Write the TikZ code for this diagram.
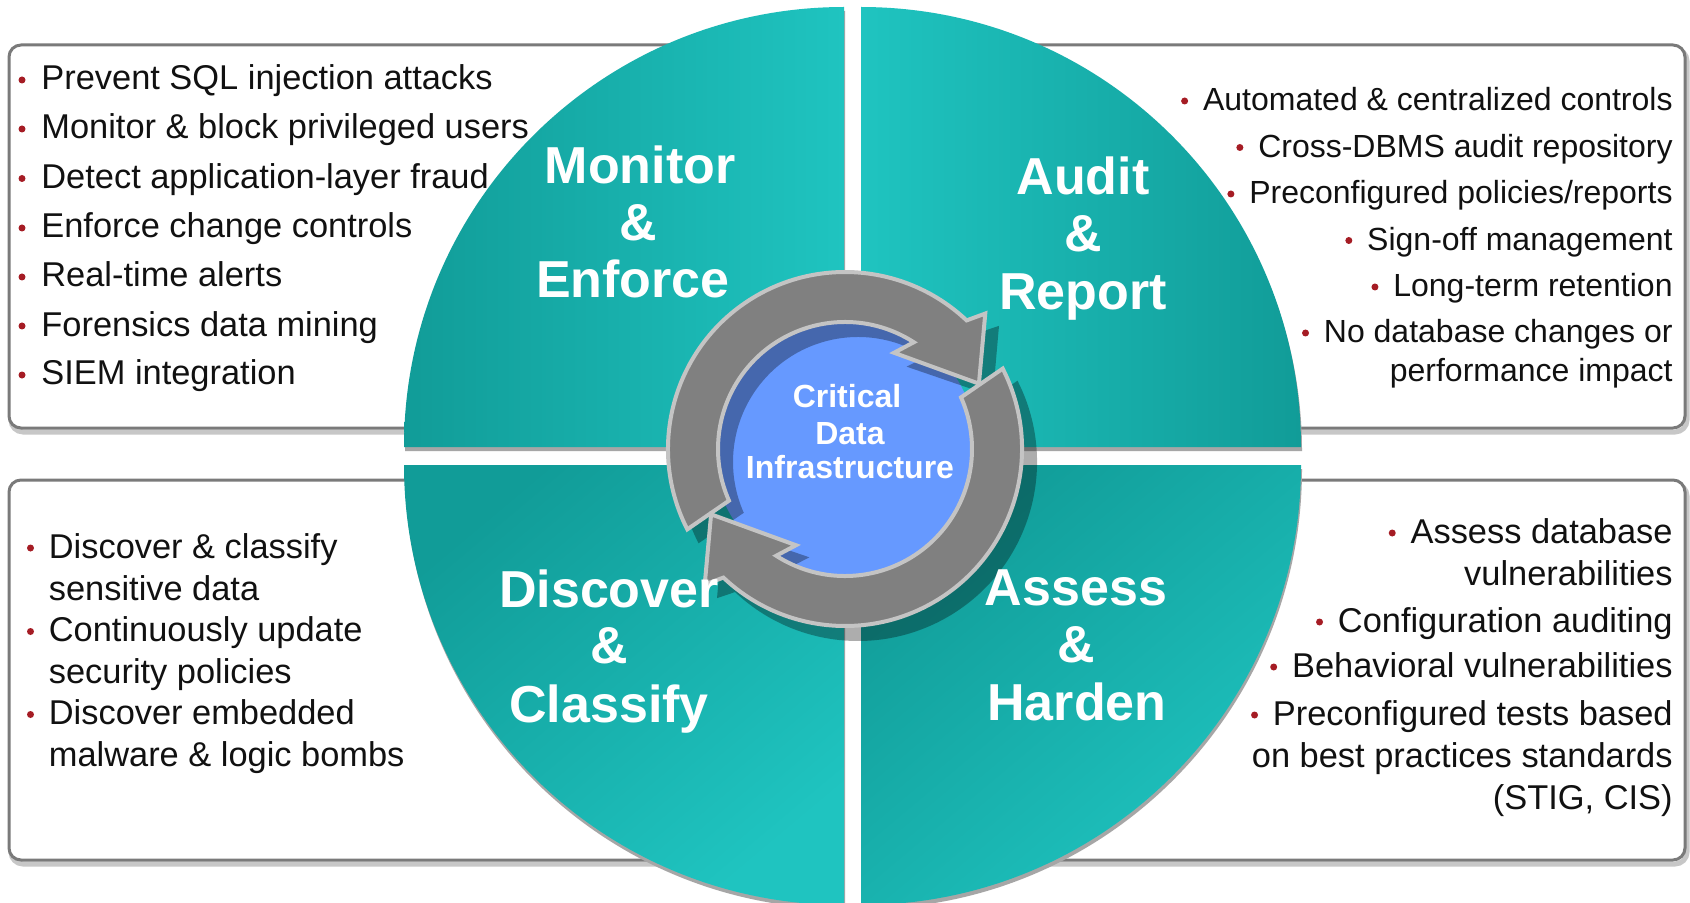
\documentclass[tikz,border=0pt]{standalone}
\usepackage{fontspec}
\setmainfont{Liberation Sans}
\usetikzlibrary{calc}
\definecolor{tealD}{HTML}{119C98}
\definecolor{tealL}{HTML}{1FC4C0}
\definecolor{ringgray}{HTML}{808080}
\definecolor{ringedge}{HTML}{C4C4C4}
\definecolor{coreblue}{HTML}{6699FF}
\definecolor{bred}{HTML}{A51C24}
\definecolor{boxline}{HTML}{7A7A7A}
\definecolor{txt}{HTML}{111111}
\definecolor{qshadow}{HTML}{A6A6A6}
\begin{document}
\begin{tikzpicture}[x=0.5pt,y=-0.5pt,
  infobox/.style={draw=boxline, line width=1.5pt, fill=white, rounded corners=6pt},
  boxshadow/.style={draw=black!22, line width=2.5pt, rounded corners=6pt},
  itemL/.style={anchor=base west, inner sep=0pt, text=txt, font=\fontsize{17.2}{20}\selectfont},
  itemR/.style={anchor=base east, inner sep=0pt, text=txt, font=\fontsize{17.2}{20}\selectfont},
  itemRs/.style={anchor=base east, inner sep=0pt, text=txt, font=\fontsize{16}{19}\selectfont},
  title/.style={anchor=base, inner sep=0pt, text=white, font=\fontsize{26}{30}\selectfont\bfseries},
  core/.style={anchor=base, inner sep=0pt, text=white, font=\fontsize{16}{19}\selectfont\bfseries},
  dot/.style={fill=bred, circle, inner sep=0pt, minimum size=3.5pt},
  arrowfill/.style={fill=ringgray, draw=ringedge, line width=2pt, line join=miter},
]
\useasboundingbox (0,0) rectangle (1690,903);
\clip (0,0) rectangle (1690,903);
\fill[white] (0,0) rectangle (1690,903);

% ---------- text boxes ----------
\draw[boxshadow] (11,49) rectangle (762,432);
\draw[boxshadow] (942,49) rectangle (1687,432);
\draw[boxshadow] (11,484) rectangle (762,864);
\draw[boxshadow] (942,484) rectangle (1687,864);
\path[infobox] (9,45) rectangle (760,428);
\path[infobox] (940,45) rectangle (1685,428);
\path[infobox] (9,480) rectangle (760,860);
\path[infobox] (940,480) rectangle (1685,860);

% top-left items
\node[itemL] (t1) at (41,90)    {Prevent SQL injection attacks};
\node[itemL] (t2) at (41,139)   {Monitor \& block privileged users};
\node[itemL] (t3) at (41,188.5) {Detect application-layer fraud};
\node[itemL] (t4) at (41,238)   {Enforce change controls};
\node[itemL] (t5) at (41,287)   {Real-time alerts};
\node[itemL] (t6) at (41,336)   {Forensics data mining};
\node[itemL] (t7) at (41,385)   {SIEM integration};
\foreach \n in {t1,t2,t3,t4,t5,t6,t7}
  \node[dot] (d\n) at ($(\n.base west)+(-19,-10)$) {};

% top-right items
\node[itemRs] (r1) at (1673,111)   {Automated \& centralized controls};
\node[itemRs] (r2) at (1673,157.5) {Cross-DBMS audit repository};
\node[itemRs] (r3) at (1673,204)   {Preconfigured policies/reports};
\node[itemRs] (r4) at (1673,250.5) {Sign-off management};
\node[itemRs] (r5) at (1673,297)   {Long-term retention};
\node[itemRs] (r6) at (1673,343)   {No database changes or};
\node[itemRs] (r7) at (1673,381)   {performance impact};
\foreach \n in {r1,r2,r3,r4,r5,r6}
  \node[dot] (d\n) at ($(\n.base west)+(-18,-10)$) {};

% bottom-left items
\node[itemL] (l1) at (48.5,558)   {Discover \& classify};
\node[itemL] (l2) at (48.5,600)   {sensitive data};
\node[itemL] (l3) at (48.5,641.5) {Continuously update};
\node[itemL] (l4) at (48.5,683)   {security policies};
\node[itemL] (l5) at (48.5,724.5) {Discover embedded};
\node[itemL] (l6) at (48.5,766)   {malware \& logic bombs};
\foreach \n in {l1,l3,l5}
  \node[dot] (d\n) at ($(\n.base west)+(-18,-10)$) {};

% bottom-right items
\node[itemR] (a1) at (1673,543) {Assess database};
\node[itemR] (a2) at (1673,585) {vulnerabilities};
\node[itemR] (a3) at (1673,632) {Configuration auditing};
\node[itemR] (a4) at (1673,677) {Behavioral vulnerabilities};
\node[itemR] (a5) at (1673,725) {Preconfigured tests based};
\node[itemR] (a6) at (1673,767) {on best practices standards};
\node[itemR] (a7) at (1673,809) {(STIG, CIS)};
\foreach \n in {a1,a3,a4,a5}
  \node[dot] (d\n) at ($(\n.base west)+(-18,-10)$) {};

% ---------- quadrant shadows ----------
\begin{scope}[shift={(1,4)}]
  \fill[qshadow] (844,447) -- (404,447) arc[start angle=180, end angle=270, radius=440] -- cycle;
  \fill[qshadow] (861,447) -- (861,7) arc[start angle=270, end angle=360, radius=440] -- cycle;
  \fill[qshadow] (844,465) -- (844,905) arc[start angle=90, end angle=180, radius=440] -- cycle;
  \fill[qshadow] (861,465) -- (1301,465) arc[start angle=0, end angle=90, radius=440] -- cycle;
\end{scope}

% ---------- quadrants ----------
\shade[left color=tealD, right color=tealL]
  (844,447) -- (404,447) arc[start angle=180, end angle=270, radius=440] -- cycle;
\shade[left color=tealL, right color=tealD]
  (861,447) -- (861,7) arc[start angle=270, end angle=360, radius=440] -- cycle;
\shade[top color=tealD, bottom color=tealL, shading angle=40]
  (844,465) -- (844,905) arc[start angle=90, end angle=180, radius=440] -- cycle;
\shade[top color=tealD, bottom color=tealL, shading angle=40]
  (861,465) -- (1301,465) arc[start angle=0, end angle=90, radius=440] -- cycle;

% ---------- central disk ----------
\begin{scope}[shift={(845,449)},yscale=-1]
  \fill[coreblue] (0,0) circle (132);
\end{scope}

% ring shadow
\begin{scope}[shift={(858,462)},yscale=-1]
  \fill[black, opacity=0.32]
    (207:179) arc[start angle=207,end angle=46.6,radius=179] -- (44:196) -- (26:150) -- (63:107) -- (57.2:125) arc[start angle=57.2,end angle=204,radius=125] -- cycle
    (27:179) arc[start angle=27,end angle=-133.4,radius=179] -- (224:196) -- (206:150) -- (243:107) -- (237.2:125) arc[start angle=237.2,end angle=384,radius=125] -- cycle;
\end{scope}

% ring arrows
\begin{scope}[shift={(845,449)},yscale=-1]
  \path[arrowfill]
    (207:177) arc[start angle=207,end angle=46.6,radius=177] -- (44:195) -- (26:149) -- (63:108) -- (57.2:127) arc[start angle=57.2,end angle=204,radius=127] -- cycle;
  \path[arrowfill]
    (27:177) arc[start angle=27,end angle=-133.4,radius=177] -- (224:195) -- (206:149) -- (243:108) -- (237.2:127) arc[start angle=237.2,end angle=384,radius=127] -- cycle;
\end{scope}

% centre text
\node[core] (c1) at (847,408) {Critical};
\node[core] (c2) at (850,444) {Data};
\node[core] (c3) at (850,478) {Infrastructure};

% ---------- titles ----------
\node[title] (m1) at (640,184) {Monitor};
\node[title] (m2) at (638,241) {\&};
\node[title] (m3) at (633,298) {Enforce};
\node[title] (u1) at (1083,195) {Audit};
\node[title] (u2) at (1083,252) {\&};
\node[title] (u3) at (1083,310) {Report};
\node[title] (k1) at (609,607) {Discover};
\node[title] (k2) at (609,663) {\&};
\node[title] (k3) at (609,722) {Classify};
\node[title] (h1) at (1076,605) {Assess};
\node[title] (h2) at (1076,662) {\&};
\node[title] (h3) at (1077,720) {Harden};
\end{tikzpicture}
\end{document}
